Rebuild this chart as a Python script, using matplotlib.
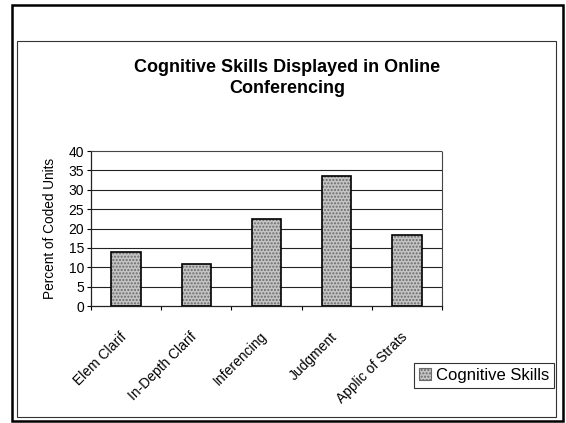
import matplotlib
matplotlib.use('Agg')
import matplotlib.pyplot as plt
import matplotlib.transforms as mtransforms
from matplotlib.patches import Rectangle, Patch
import numpy as np

categories = ['Elem Clarif', 'In-Depth Clarif', 'Inferencing', 'Judgment', 'Applic of Strats']
values = [14.0, 10.9, 22.4, 33.5, 18.2]
yticks = [0, 5, 10, 15, 20, 25, 30, 35, 40]

plt.rcParams['font.family'] = ['Liberation Sans', 'DejaVu Sans']

fig = plt.figure(figsize=(5.66, 4.23), dpi=100)
fig.patch.set_facecolor('white')

# page frames
fig.add_artist(Rectangle((12 / 566, 1 - 421 / 423), 551 / 566, 416 / 423,
                         transform=fig.transFigure, fill=False, lw=1.8, ec='black'))
fig.add_artist(Rectangle((17 / 566, 1 - 417 / 423), 539 / 566, 376 / 423,
                         transform=fig.transFigure, fill=False, lw=0.8, ec='#333333'))

ax = fig.add_axes([91 / 566, 1 - 306 / 423, 351 / 566, 155 / 423])
x = np.arange(len(categories))

for y in yticks[1:-1]:
    ax.axhline(y, color='#222222', lw=0.8, zorder=0)

# stippled fill, then outline
ax.bar(x, values, width=0.42, color='#c4c4c4', edgecolor='#6a6a6a',
       hatch='.....', lw=0, zorder=2)
ax.bar(x, values, width=0.42, fill=False, edgecolor='black', lw=1.2, zorder=3)

ax.set_xlim(-0.5, 4.5)
ax.set_ylim(0, 40)
ax.set_yticks(yticks)
ax.set_yticklabels([str(v) for v in yticks], fontsize=10)
ax.tick_params(axis='y', length=3, width=0.8, pad=2)

ax.set_xticks(x)
ax.set_xticklabels(categories, rotation=45, ha='right', va='top',
                   rotation_mode='anchor', fontsize=10)
ax.set_xticks(np.arange(-0.5, 5, 1), minor=True)
ax.tick_params(axis='x', which='major', length=0, pad=17)
ax.tick_params(axis='x', which='minor', length=3, width=0.8)

# nudge rotated labels a little left of the bar centres
shift = mtransforms.ScaledTranslation(-5 / 72, 0, fig.dpi_scale_trans)
for lbl in ax.get_xticklabels():
    lbl.set_transform(lbl.get_transform() + shift)

for side in ['top', 'right']:
    ax.spines[side].set_linestyle((0, (1, 1)))
    ax.spines[side].set_linewidth(0.8)
    ax.spines[side].set_color('#444444')
for side in ['left', 'bottom']:
    ax.spines[side].set_linewidth(0.9)
    ax.spines[side].set_color('#222222')

ax.set_ylabel('Percent of Coded Units', fontsize=9.8, labelpad=8)

fig.text(287 / 566, 1 - 78 / 423,
         'Cognitive Skills Displayed in Online\nConferencing',
         ha='center', va='center', fontsize=13, fontweight='bold',
         linespacing=1.3)

handle = Patch(facecolor='#c4c4c4', edgecolor='#6a6a6a', hatch='.....', lw=0.8)
leg = fig.legend([handle], ['Cognitive Skills'], loc='center left',
                 bbox_to_anchor=(414 / 566, 1 - 375.5 / 423),
                 fontsize=12, frameon=True, fancybox=False,
                 handlelength=0.7, handleheight=0.7, handletextpad=0.3,
                 borderpad=0.3, borderaxespad=0)
leg.get_frame().set_edgecolor('black')
leg.get_frame().set_linewidth(0.8)

fig.savefig('out.png', dpi=100)
